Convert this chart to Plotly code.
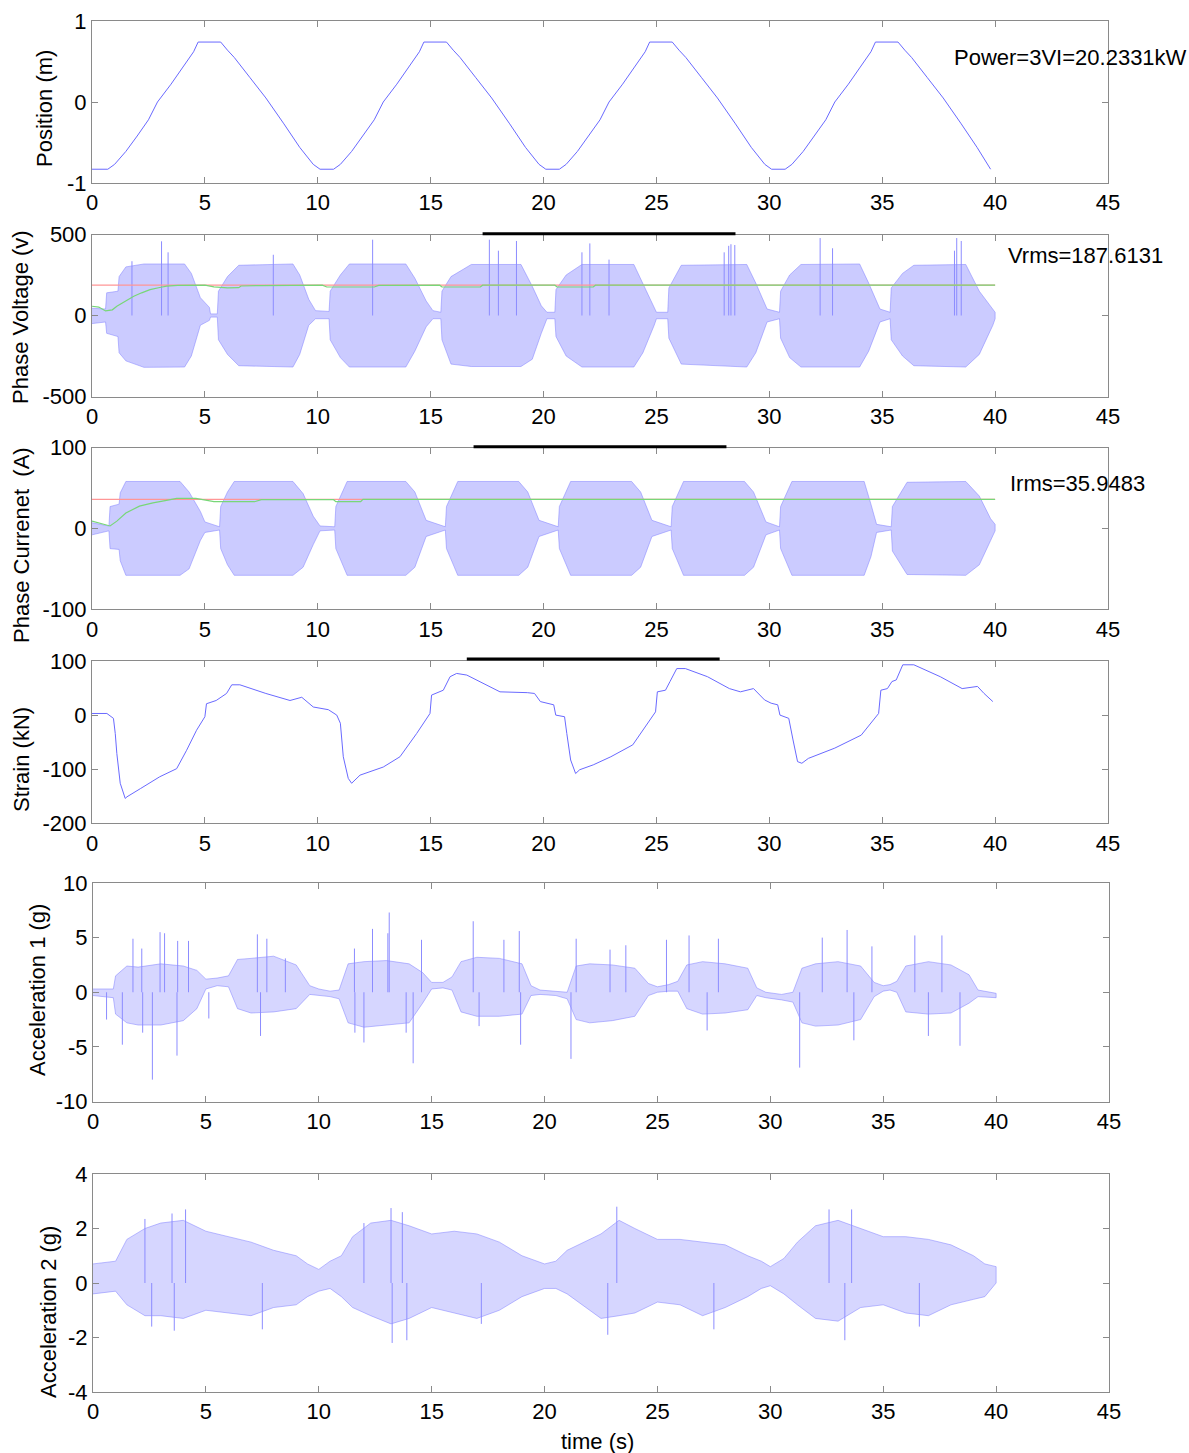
import plotly.graph_objects as go

# ---------------- data ----------------
pos_t = [0.0, 0.7, 1.0, 1.5, 2.0, 2.5, 2.9, 3.5, 4.0, 4.5, 4.7, 5.7, 6.0, 6.3, 7.0, 7.7, 8.5, 9.2, 9.8, 10.1, 10.7,
         11.0, 11.5, 12.0, 12.5, 12.9, 13.5, 14.0, 14.5, 14.7, 15.7, 16.0, 16.3, 17.0, 17.7, 18.5, 19.2, 19.8, 20.1, 20.7,
         21.0, 21.5, 22.0, 22.5, 22.9, 23.5, 24.0, 24.5, 24.7, 25.7, 26.0, 26.3, 27.0, 27.7, 28.5, 29.2, 29.8, 30.1, 30.7,
         31.0, 31.5, 32.0, 32.5, 32.9, 33.5, 34.0, 34.5, 34.7, 35.7, 36.0, 36.3, 37.0, 37.7, 38.5, 39.2, 39.8]
pos_v = [-0.83, -0.83, -0.77, -0.61, -0.42, -0.22, 0.0, 0.22, 0.42, 0.62, 0.74, 0.74, 0.64, 0.55, 0.30, 0.05, -0.27, -0.56, -0.77, -0.83, -0.83,
         -0.77, -0.61, -0.42, -0.22, 0.0, 0.22, 0.42, 0.62, 0.74, 0.74, 0.64, 0.55, 0.30, 0.05, -0.27, -0.56, -0.77, -0.83, -0.83,
         -0.77, -0.61, -0.42, -0.22, 0.0, 0.22, 0.42, 0.62, 0.74, 0.74, 0.64, 0.55, 0.30, 0.05, -0.27, -0.56, -0.77, -0.83, -0.83,
         -0.77, -0.61, -0.42, -0.22, 0.0, 0.22, 0.42, 0.62, 0.74, 0.74, 0.64, 0.55, 0.30, 0.05, -0.27, -0.56, -0.83]

# Phase voltage envelope of the dense oscillation
v_t = [0.0, 0.6, 0.65, 1.15, 1.2, 1.5, 2.3, 4.1, 4.4, 4.8, 5.2, 5.25, 5.55,
       5.6, 6.0, 6.5, 8.9, 9.2, 9.6, 9.9, 10.5,
       10.55, 11.0, 11.4, 13.9, 14.3, 14.8, 15.1, 15.45,
       15.5, 15.9, 16.8, 19.0, 19.5, 19.9, 20.15, 20.5,
       20.55, 21.0, 21.7, 24.0, 24.4, 24.9, 25.0, 25.5,
       25.55, 26.1, 29.0, 29.4, 29.9, 30.45,
       30.5, 30.9, 31.4, 34.0, 34.4, 34.9, 35.35,
       35.4, 35.9, 36.4, 38.7, 39.3, 39.9, 40.0]
v_up = [45, 40, 140, 150, 240, 300, 318, 318, 260, 110, 50, 10, 10,
        150, 240, 310, 318, 250, 100, 30, 25,
        150, 250, 318, 318, 230, 90, 30, 20,
        150, 240, 315, 315, 180, 60, 20, 20,
        160, 250, 315, 315, 200, 50, 20, 20,
        170, 310, 315, 200, 40, 20,
        150, 250, 315, 318, 200, 40, 20,
        170, 260, 310, 315, 150, 40, 20]
v_lo = [-50, -40, -110, -130, -230, -280, -320, -318, -250, -60, -30, -10, -10,
        -150, -240, -310, -318, -240, -60, -20, -20,
        -150, -260, -318, -318, -220, -70, -20, -20,
        -150, -300, -315, -315, -270, -110, -20, -20,
        -130, -250, -318, -318, -230, -60, -20, -20,
        -140, -300, -318, -230, -40, -20,
        -140, -260, -318, -318, -220, -40, -20,
        -150, -250, -310, -318, -240, -60, -20]
v_spk_t = [1.77, 3.08, 3.37, 8.03, 12.43, 17.6, 18.0, 18.8, 21.7, 22.05, 22.9, 28.0, 28.2, 28.3, 28.47, 32.25, 32.8, 38.2, 38.3, 38.5]
v_spk_v = [335, 458, 390, 375, 468, 468, 400, 460, 390, 445, 345, 390, 430, 440, 435, 478, 415, 400, 478, 460]
v_rms = 187.6131
v_rms_t = [0.0, 0.3, 0.6, 0.9, 1.1, 1.5, 1.85, 2.2, 2.57, 3.0, 3.3, 3.8, 4.2, 5.0, 5.4, 6.0, 6.5, 6.6, 7.5, 8.5,
           10.2, 10.4, 12.5, 12.7, 15.4, 15.5, 17.2, 17.3, 20.5, 20.6, 22.2, 22.3, 40.0]
v_rms_v = [57, 52, 28, 35, 57, 90, 119, 140, 160, 173, 181, 186, 188, 188, 177, 170, 172, 182, 185, 187,
           187, 176, 176, 186, 187, 176, 176, 187, 187, 176, 176, 187, 187]

# Phase current envelope
i_t = [0.0, 0.75, 0.8, 1.2, 1.25, 1.5, 3.9, 4.3, 4.8, 5.0, 5.65,
       5.7, 6.0, 6.3, 8.9, 9.35, 9.8, 10.1, 10.75,
       10.8, 11.3, 13.9, 14.3, 14.8, 15.65,
       15.7, 16.2, 18.9, 19.3, 19.8, 20.65,
       20.7, 21.2, 23.9, 24.3, 24.8, 25.65,
       25.7, 26.2, 28.9, 29.3, 29.85, 30.45,
       30.5, 31.0, 34.2, 34.5, 34.75, 35.4,
       35.45, 36.1, 38.7, 39.3, 39.8, 40.0]
i_up = [7, 3, 27, 30, 44, 58, 58, 45, 21, 8, 2,
        27, 45, 58, 58, 43, 15, 3, 2,
        27, 58, 58, 45, 10, 2,
        27, 58, 58, 45, 10, 2,
        27, 58, 58, 45, 10, 2,
        27, 58, 58, 45, 8, 2,
        27, 58, 58, 30, 5, 2,
        27, 57, 58, 40, 12, 5]
i_lo = [-8, -3, -25, -26, -40, -58, -58, -50, -15, -5, -2,
        -25, -45, -58, -58, -48, -20, -3, -2,
        -25, -58, -58, -48, -10, -2,
        -25, -58, -58, -48, -10, -2,
        -25, -58, -58, -48, -10, -2,
        -25, -58, -58, -48, -8, -2,
        -25, -58, -58, -35, -5, -2,
        -28, -57, -58, -45, -15, -3]
i_rms = 35.9483
i_rms_t = [0.0, 0.4, 0.8, 1.1, 1.5, 2.1, 2.7, 3.3, 3.75, 4.6, 4.9, 5.4, 7.2, 7.5, 10.7, 10.8, 11.9, 12.0, 40.0]
i_rms_v = [9, 6, 3, 9, 19, 27.5, 31.6, 34.6, 37, 37, 35.5, 33, 33, 35.5, 35.5, 33, 33, 35.9, 35.9]

# Strain
s_t = [0.0, 0.66, 0.95, 1.03, 1.1, 1.25, 1.47, 1.55, 2.14, 3.0, 3.75, 4.19, 4.63, 5.0, 5.07, 5.5, 5.96, 6.19, 6.55, 7.7,
       8.77, 9.29, 9.8, 10.47, 10.84, 11.0, 11.13, 11.35, 11.5, 11.87, 12.9, 13.64, 14.38, 14.97, 15.04, 15.56, 15.86,
       16.15, 16.6, 18.07, 19.28, 19.6, 19.86, 20.45, 20.54, 20.93, 21.03, 21.2, 21.42, 21.6, 22.2, 22.98, 23.95, 24.53,
       24.96, 25.04, 25.4, 25.6, 25.9, 26.28, 27.26, 28.23, 28.72, 29.3, 29.79, 30.08, 30.37, 30.47, 30.86, 31.05, 31.25,
       31.44, 31.73, 32.9, 34.07, 34.84, 34.94, 35.23, 35.43, 35.62, 35.91, 36.4, 37.57, 38.54, 39.22, 39.51, 39.9]
s_v = [3, 3, -6, -34, -71, -126, -154, -151, -136, -114, -99, -65, -28, -3, 21, 27, 40, 56, 56, 40,
       27, 33, 15, 10, 0, -15, -77, -117, -126, -111, -96, -77, -34, 3, 37, 46, 71,
       77, 74, 43, 41.5, 40, 25, 19, 0, -3, -34, -83, -108, -101, -92, -77, -55, -21,
       6, 43, 46, 62, 86, 86, 71, 49, 43, 49, 28, 22, 19, 0, -6, -46, -86,
       -89, -80, -61, -37, 3, 46, 49, 62, 65, 93, 93, 71, 49, 53, 40, 25]

# Acceleration 1 envelope + isolated spikes
a1_t = [0.0, 0.9, 1.0, 1.5, 2.0, 3.0, 4.0, 4.6, 5.0, 5.5, 6.0, 6.4, 7.0, 8.0, 9.0, 9.6, 10.0, 10.5, 10.9, 11.3,
        12.0, 13.0, 14.0, 14.6, 15.0, 15.5, 15.9, 16.3, 17.0, 18.0, 19.0, 19.4, 19.8, 20.5, 21.0, 21.4, 22.0, 23.0,
        24.0, 24.6, 25.0, 25.5, 25.9, 26.3, 27.0, 28.0, 29.0, 29.4, 29.8, 30.5, 31.0, 31.4, 32.0, 33.0, 34.0, 34.6,
        35.0, 35.3, 35.6, 36.0, 37.0, 38.0, 38.8, 39.2, 40.0]
a1_up = [0.3, 0.3, 1.5, 2.4, 2.3, 2.6, 2.4, 2.0, 1.2, 1.3, 1.5, 3.0, 3.1, 3.3, 2.5, 0.6, 0.3, 0.1, 0.2, 2.6,
         2.8, 2.9, 2.6, 1.8, 0.9, 0.9, 1.4, 2.8, 3.2, 3.1, 2.6, 0.6, 0.2, 0.1, 0.0, 2.4, 2.6, 2.5,
         2.2, 0.8, 0.5, 0.7, 1.0, 2.5, 2.8, 2.6, 2.2, 0.4, 0.0, -0.2, 0.0, 2.2, 2.6, 2.8, 2.4, 0.9,
         0.6, 0.7, 1.0, 2.4, 2.8, 2.5, 1.6, 0.2, -0.1]
a1_lo = [-0.3, -0.5, -2.0, -2.8, -3.0, -3.0, -2.6, -1.5, 0.3, 0.6, 0.5, -1.5, -1.9, -1.8, -1.5, -0.2, -0.3, -0.4, -0.6, -2.8,
         -3.2, -3.0, -2.8, -1.0, 0.3, 0.4, 0.2, -1.8, -2.2, -2.2, -2.0, -0.3, -0.2, -0.3, -0.6, -2.5, -2.8, -2.6,
         -2.2, -0.3, 0.0, 0.1, 0.1, -1.5, -2.0, -1.9, -1.6, -0.3, -0.5, -0.7, -0.9, -2.8, -3.1, -3.0, -2.5, -0.4,
         0.1, 0.2, 0.0, -1.8, -2.0, -1.9, -1.0, -0.4, -0.5]
a1_spk_t = [0.6, 1.3, 1.77, 2.16, 2.2, 2.63, 2.97, 3.17, 3.72, 3.75, 4.23, 5.13, 7.28, 7.42, 7.7, 8.52, 11.58, 11.6,
            12.0, 12.38, 13.06, 13.12, 13.87, 14.18, 14.55, 16.84, 17.1, 18.2, 18.88, 18.94, 21.17, 21.4, 22.9, 23.6,
            25.4, 26.4, 27.2, 27.7, 31.3, 32.3, 33.4, 33.7, 34.5, 36.4, 37.0, 37.6, 38.4]
a1_spk_v = [-2.5, -4.8, 4.9, 4.0, -3.7, -8.0, 5.5, 5.4, -5.8, 4.7, 4.7, -2.4, 5.3, -4.0, 4.9, 3.1, 4.0, -3.7,
            -4.6, 5.8, 5.4, 7.3, -3.7, -6.5, 4.8, 6.5, -3.1, 4.8, 5.6, -4.8, -6.1, 4.9, 3.9, 4.3,
            4.8, 5.2, -3.5, 4.9, -6.9, 5.0, 5.7, -4.4, 4.2, 5.2, -4.0, 5.2, -4.9]

# Acceleration 2 envelope + isolated spikes
a2_t = [0.0, 1.0, 1.5, 2.3, 3.0, 4.0, 5.0, 6.0, 7.0, 8.0, 9.0, 9.5, 10.0, 10.5, 11.0, 11.5, 12.3, 13.2, 14.0, 15.0,
        16.0, 17.0, 18.0, 19.0, 20.0, 20.5, 21.0, 22.5, 23.3, 24.0, 25.0, 26.0, 27.0, 28.0, 29.0, 29.6, 30.0, 30.6,
        31.2, 32.0, 33.0, 34.0, 35.0, 36.0, 37.0, 38.0, 39.0, 39.5, 40.0]
a2_up = [0.7, 0.8, 1.6, 2.0, 2.2, 2.3, 1.9, 1.7, 1.5, 1.2, 1.0, 0.7, 0.5, 0.8, 1.0, 1.7, 2.2, 2.3, 2.1, 1.8,
         1.9, 1.8, 1.5, 1.0, 0.7, 0.8, 1.2, 1.8, 2.3, 2.0, 1.6, 1.6, 1.5, 1.4, 1.0, 0.8, 0.6, 0.9,
         1.5, 2.1, 2.3, 2.0, 1.7, 1.7, 1.6, 1.4, 1.0, 0.7, 0.6]
a2_lo = [-0.4, -0.3, -0.8, -1.2, -1.2, -1.3, -1.0, -1.1, -1.2, -0.9, -0.8, -0.5, -0.3, -0.2, -0.5, -0.9, -1.2, -1.5, -1.3, -0.9,
         -1.1, -1.3, -1.0, -0.5, -0.2, -0.2, -0.4, -1.3, -1.2, -1.1, -0.7, -0.8, -1.2, -0.9, -0.5, -0.2, -0.1, -0.4,
         -0.8, -1.3, -1.4, -0.9, -0.8, -1.1, -1.2, -0.8, -0.6, -0.5, 0.0]
a2_spk_t = [2.3, 2.6, 3.5, 3.6, 4.1, 7.5, 12.0, 13.2, 13.25, 13.7, 13.9, 17.2, 22.8, 23.2, 27.5, 32.6, 33.3, 33.6, 36.6]
a2_spk_v = [2.35, -1.6, 2.55, -1.75, 2.7, -1.7, 2.2, 2.75, -2.2, 2.6, -2.1, -1.5, -1.9, 2.8, -1.7, 2.7, -2.1, 2.7, -1.6]

# black bars above panels 2-4 (time span, in seconds)
bar_t0 = [17.3, 16.9, 16.6]
bar_t1 = [28.5, 28.1, 27.8]

x_ticks = [0, 5, 10, 15, 20, 25, 30, 35, 40, 45]
y_ranges = [[-1, 1], [-500, 500], [-100, 100], [-200, 100], [-10, 10], [-4, 4]]
y_tickvals = [[-1, 0, 1], [-500, 0, 500], [-100, 0, 100], [-200, -100, 0, 100], [-10, -5, 0, 5, 10], [-4, -2, 0, 2, 4]]
y_titles = ["Position (m)", "Phase Voltage (v)", "Phase Currenet\u00a0 (A)", "Strain (kN)",
            "Acceleration 1 (g)", "Acceleration 2 (g)"]
power_text = "Power=3VI=20.2331kW"
vrms_text = "Vrms=187.6131"
irms_text = "Irms=35.9483"

# ---------------- figure ----------------
W, H = 1189, 1453
FONT = "Liberation Sans, Arial, sans-serif"
FS = 22
LINE = "rgb(105,105,255)"
FILL = "rgba(155,155,255,0.52)"
FILL_LIGHT = "rgba(165,165,255,0.45)"
SPK = "rgb(140,140,255)"

# panel pixel boxes (top, bottom) and x extents
boxes = [(21, 183), (234.5, 396.5), (447.5, 609.3), (661, 823.3), (883, 1101.5), (1174, 1392)]
xext = [(92, 1108)] * 4 + [(93, 1109)] * 2

fig = go.Figure()


def ax(i):
    return ("x" if i == 0 else f"x{i+1}"), ("y" if i == 0 else f"y{i+1}")


def band(i, t, up, lo, color):
    xa, ya = ax(i)
    fig.add_trace(go.Scatter(x=t + t[::-1], y=up + lo[::-1], fill="toself", fillcolor=color,
                             mode="lines", line=dict(color="rgba(120,120,255,0.8)", width=0.6),
                             xaxis=xa, yaxis=ya, hoverinfo="skip"))


def spikes(i, t, v):
    xa, ya = ax(i)
    xs, ys = [], []
    for tt, vv in zip(t, v):
        xs += [tt, tt, None]
        ys += [0, vv, None]
    fig.add_trace(go.Scatter(x=xs, y=ys, mode="lines", line=dict(color=SPK, width=1),
                             xaxis=xa, yaxis=ya, hoverinfo="skip"))


# panel 1: position
fig.add_trace(go.Scatter(x=pos_t, y=pos_v, mode="lines", line=dict(color=LINE, width=1), xaxis="x", yaxis="y"))

# panel 2: voltage
band(1, v_t, v_up, v_lo, FILL)
spikes(1, v_spk_t, v_spk_v)
fig.add_trace(go.Scatter(x=[0, 40], y=[v_rms, v_rms], mode="lines", line=dict(color="rgb(255,150,150)", width=1.2),
                         xaxis="x2", yaxis="y2"))
fig.add_trace(go.Scatter(x=v_rms_t, y=v_rms_v, mode="lines", line=dict(color="rgb(120,215,120)", width=1.2),
                         xaxis="x2", yaxis="y2"))

# panel 3: current
band(2, i_t, i_up, i_lo, FILL)
fig.add_trace(go.Scatter(x=[0, 40], y=[i_rms, i_rms], mode="lines", line=dict(color="rgb(255,150,150)", width=1.2),
                         xaxis="x3", yaxis="y3"))
fig.add_trace(go.Scatter(x=i_rms_t, y=i_rms_v, mode="lines", line=dict(color="rgb(120,215,120)", width=1.2),
                         xaxis="x3", yaxis="y3"))

# panel 4: strain
fig.add_trace(go.Scatter(x=s_t, y=s_v, mode="lines", line=dict(color=LINE, width=1), xaxis="x4", yaxis="y4"))

# panel 5/6: accelerations
band(4, a1_t, a1_up, a1_lo, FILL_LIGHT)
spikes(4, a1_spk_t, a1_spk_v)
band(5, a2_t, a2_up, a2_lo, FILL_LIGHT)
spikes(5, a2_spk_t, a2_spk_v)

layout = dict(width=W, height=H, margin=dict(l=0, r=0, t=0, b=0, autoexpand=False), showlegend=False,
              paper_bgcolor="white", plot_bgcolor="white", font=dict(family=FONT, size=FS, color="black"))

for i in range(6):
    top, bot = boxes[i]
    x0, x1 = xext[i]
    xk = "xaxis" if i == 0 else f"xaxis{i+1}"
    yk = "yaxis" if i == 0 else f"yaxis{i+1}"
    xa, ya = ax(i)
    layout[xk] = dict(domain=[x0 / W, x1 / W], range=[0, 45], tickvals=x_ticks,
                      ticktext=[str(v) for v in x_ticks], anchor=ya, automargin=False,
                      showline=True, linecolor="#8a8a8a", linewidth=1, mirror="ticks",
                      ticks="inside", ticklen=6, tickcolor="#8a8a8a", showgrid=False, zeroline=False,
                      tickfont=dict(family=FONT, size=FS, color="black"))
    layout[yk] = dict(domain=[1 - bot / H, 1 - top / H], range=y_ranges[i], tickvals=y_tickvals[i],
                      ticktext=[str(v) for v in y_tickvals[i]], anchor=xa, automargin=False,
                      showline=True, linecolor="#8a8a8a", linewidth=1, mirror="ticks",
                      ticks="inside", ticklen=6, tickcolor="#8a8a8a", showgrid=False, zeroline=False,
                      tickfont=dict(family=FONT, size=FS, color="black"))

fig.update_layout(**layout)

# y-axis titles (MATLAB places them slightly off-centre)
title_pos = [(44, 109), (21, 317), (21, 545), (21, 760), (37, 990), (48, 1312)]
for txt, (px, py) in zip(y_titles, title_pos):
    fig.add_annotation(text=txt, x=px / W, y=1 - py / H, xref="paper", yref="paper", textangle=-90,
                       showarrow=False, xanchor="center", yanchor="middle",
                       font=dict(family=FONT, size=FS, color="black"))

fig.add_annotation(text="time (s)", x=597 / W, y=1 - 1441 / H, xref="paper", yref="paper", showarrow=False,
                   xanchor="center", yanchor="middle", font=dict(family=FONT, size=FS, color="black"))
fig.add_annotation(text=power_text, x=952 / W, y=1 - 57 / H, xref="paper", yref="paper", showarrow=False,
                   xanchor="left", yanchor="middle", font=dict(family=FONT, size=FS, color="black"))
fig.add_annotation(text=vrms_text, x=1006 / W, y=1 - 256 / H, xref="paper", yref="paper", showarrow=False,
                   xanchor="left", yanchor="middle", font=dict(family=FONT, size=FS, color="black"))
fig.add_annotation(text=irms_text, x=1008 / W, y=1 - 483 / H, xref="paper", yref="paper", showarrow=False,
                   xanchor="left", yanchor="middle", font=dict(family=FONT, size=FS, color="black"))

# black bars above panels 2-4
for k, (b0, b1) in enumerate(zip(bar_t0, bar_t1)):
    i = k + 1
    xa, ya = ax(i)
    yoff = [1.005, 1.005, 1.012][k]
    fig.add_shape(type="line", xref=xa, yref=f"{ya} domain", x0=b0, x1=b1, y0=yoff, y1=yoff,
                  line=dict(color="black", width=3))

fig.write_html("out.html", config={"displayModeBar": False},
               post_script="document.body.style.margin='0';document.body.style.overflow='hidden';")
